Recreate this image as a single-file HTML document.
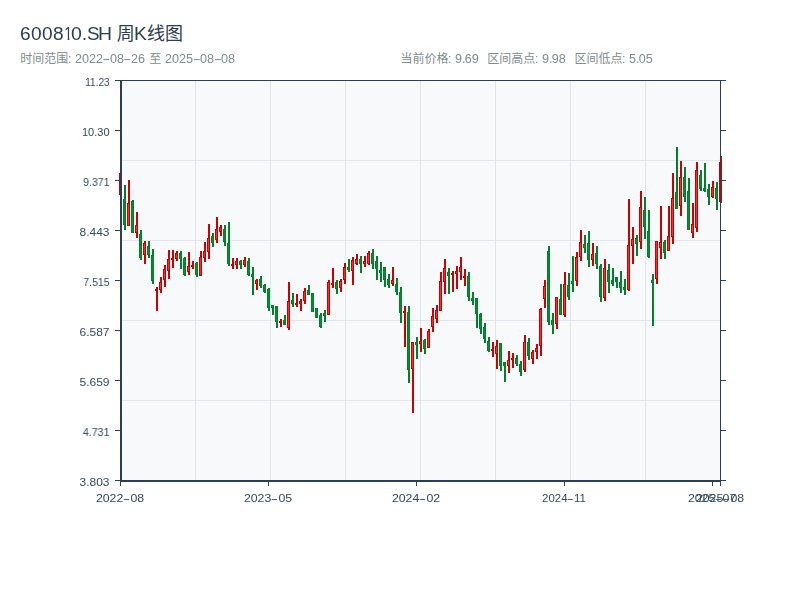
<!DOCTYPE html>
<html lang="zh"><head><meta charset="utf-8"><title>600810.SH</title>
<style>
html,body{margin:0;padding:0;background:#ffffff}
body{width:800px;height:600px;position:relative;overflow:hidden;font-family:"Liberation Sans",sans-serif}
div{position:absolute;white-space:nowrap;line-height:1;margin:0;padding:0;will-change:transform}
span{display:inline-block}
.tt{font-size:18px;color:#2c3e50}
.tt span{position:absolute;top:0;transform-origin:0 0}
.st{font-size:12px;color:#7f8c8d;transform:scaleX(1.05);transform-origin:0 0}
.h{width:6.67px;text-align:center;transform:scaleX(1.9)}
.p{letter-spacing:-0.8px}
.yl{font-size:11px;color:#34495e;transform-origin:100% 0}
.xl{font-size:11px;color:#34495e;transform:translateX(-50%) scaleX(1.12)}
.hx{width:6.3px;text-align:center;transform:scaleX(1.75)}
</style></head><body>
<svg width="800" height="600" viewBox="0 0 800 600" style="position:absolute;left:0;top:0" shape-rendering="crispEdges">
<rect x="120" y="80" width="601" height="401" fill="#f8f9fa"/>
<path d="M195 81V480M270 81V480M345 81V480M420 81V480M495 81V480M570 81V480M645 81V480" stroke="#e1e5ec" stroke-width="1" transform="translate(0.5,0)" fill="none"/>
<path d="M122 160H720M122 240H720M122 320H720M122 400H720" stroke="#e1e5ec" stroke-width="1" transform="translate(0,0.5)" fill="none"/>
<path fill="#cc0000" d="M120 173h2v22h-2zM119 173h3v22h-3zM128 180h2v46h-2zM127 203h3v23h-3zM136 212h2v26h-2zM135 225h3v8h-3zM144 241h2v23h-2zM143 243h3v12h-3zM156 287h2v24h-2zM155 289h3v2h-3zM160 277h2v16h-2zM159 282h3v8h-3zM164 265h2v22h-2zM163 269h3v11h-3zM168 250h2v29h-2zM167 259h3v12h-3zM172 250h2v18h-2zM171 258h3v2h-3zM176 251h2v10h-2zM175 253h3v6h-3zM188 252h2v23h-2zM187 266h3v6h-3zM192 261h2v8h-2zM191 265h3v2h-3zM200 251h2v25h-2zM199 257h3v19h-3zM204 242h2v20h-2zM203 251h3v7h-3zM208 224h2v35h-2zM207 238h3v14h-3zM216 217h2v26h-2zM215 229h3v11h-3zM220 225h2v11h-2zM219 227h3v5h-3zM232 258h2v11h-2zM231 264h3v2h-3zM236 258h2v11h-2zM235 261h3v4h-3zM244 257h2v10h-2zM243 260h3v5h-3zM256 279h2v11h-2zM255 280h3v4h-3zM280 319h2v8h-2zM279 321h3v2h-3zM288 282h2v48h-2zM287 301h3v27h-3zM296 294h2v13h-2zM295 303h3v2h-3zM300 299h2v12h-2zM299 301h3v3h-3zM304 288h2v16h-2zM303 291h3v10h-3zM328 280h2v35h-2zM327 282h3v33h-3zM332 268h2v20h-2zM331 283h3v2h-3zM340 279h2v13h-2zM339 281h3v7h-3zM344 263h2v21h-2zM343 267h3v13h-3zM352 257h2v28h-2zM351 260h3v11h-3zM356 254h2v11h-2zM355 259h3v5h-3zM364 256h2v11h-2zM363 261h3v3h-3zM368 251h2v14h-2zM367 253h3v11h-3zM392 267h2v19h-2zM391 280h3v4h-3zM404 306h2v41h-2zM403 311h3v2h-3zM412 342h2v71h-2zM411 342h3v27h-3zM420 328h2v24h-2zM419 341h3v3h-3zM428 329h2v19h-2zM427 331h3v17h-3zM432 308h2v24h-2zM431 316h3v11h-3zM436 305h2v18h-2zM435 310h3v9h-3zM440 272h2v39h-2zM439 281h3v30h-3zM444 259h2v35h-2zM443 268h3v14h-3zM452 271h2v21h-2zM451 273h3v2h-3zM456 266h2v23h-2zM455 271h3v3h-3zM460 257h2v23h-2zM459 267h3v5h-3zM464 269h2v17h-2zM463 276h3v2h-3zM492 342h2v15h-2zM491 349h3v2h-3zM496 340h2v29h-2zM495 346h3v8h-3zM508 351h2v22h-2zM507 360h3v6h-3zM512 353h2v15h-2zM511 358h3v2h-3zM524 335h2v37h-2zM523 342h3v28h-3zM532 350h2v14h-2zM531 352h3v7h-3zM536 344h2v15h-2zM535 348h3v4h-3zM540 308h2v48h-2zM539 309h3v37h-3zM544 280h2v28h-2zM543 286h3v13h-3zM556 297h2v32h-2zM555 297h3v27h-3zM564 272h2v45h-2zM563 284h3v31h-3zM576 252h2v34h-2zM575 257h3v24h-3zM580 230h2v31h-2zM579 242h3v15h-3zM592 243h2v23h-2zM591 254h3v6h-3zM604 259h2v42h-2zM603 268h3v30h-3zM628 199h2v92h-2zM627 245h3v45h-3zM632 227h2v37h-2zM631 239h3v7h-3zM640 191h2v58h-2zM639 207h3v35h-3zM656 241h2v43h-2zM655 241h3v38h-3zM660 206h2v53h-2zM659 242h3v6h-3zM668 206h2v45h-2zM667 236h3v15h-3zM672 173h2v71h-2zM671 198h3v39h-3zM680 161h2v55h-2zM679 177h3v29h-3zM692 203h2v35h-2zM691 224h3v9h-3zM696 162h2v70h-2zM695 170h3v58h-3zM712 181h2v17h-2zM711 187h3v10h-3zM720 156h2v47h-2zM719 162h3v40h-3z"/>
<path fill="#ff2b2b" d="M120 174h1v20h-1zM128 204h1v21h-1zM136 226h1v6h-1zM144 244h1v10h-1zM160 283h1v6h-1zM164 270h1v9h-1zM168 260h1v10h-1zM176 254h1v4h-1zM188 267h1v4h-1zM200 258h1v17h-1zM204 252h1v5h-1zM208 239h1v12h-1zM216 230h1v9h-1zM220 228h1v3h-1zM236 262h1v2h-1zM244 261h1v3h-1zM256 281h1v2h-1zM288 302h1v25h-1zM300 302h1v1h-1zM304 292h1v8h-1zM328 283h1v31h-1zM340 282h1v5h-1zM344 268h1v11h-1zM352 261h1v9h-1zM356 260h1v3h-1zM364 262h1v1h-1zM368 254h1v9h-1zM392 281h1v2h-1zM412 343h1v25h-1zM420 342h1v1h-1zM428 332h1v15h-1zM432 317h1v9h-1zM436 311h1v7h-1zM440 282h1v28h-1zM444 269h1v12h-1zM456 272h1v1h-1zM460 268h1v3h-1zM496 347h1v6h-1zM508 361h1v4h-1zM524 343h1v26h-1zM532 353h1v5h-1zM536 349h1v2h-1zM540 310h1v35h-1zM544 287h1v11h-1zM556 298h1v25h-1zM564 285h1v29h-1zM576 258h1v22h-1zM580 243h1v13h-1zM592 255h1v4h-1zM604 269h1v28h-1zM628 246h1v43h-1zM632 240h1v5h-1zM640 208h1v33h-1zM656 242h1v36h-1zM660 243h1v4h-1zM668 237h1v13h-1zM672 199h1v37h-1zM680 178h1v27h-1zM692 225h1v7h-1zM696 171h1v56h-1zM712 188h1v8h-1zM720 163h1v38h-1z"/>
<path fill="#00802b" d="M124 185h2v45h-2zM123 199h3v26h-3zM132 200h2v33h-2zM131 201h3v32h-3zM140 230h2v30h-2zM139 234h3v24h-3zM148 241h2v17h-2zM147 246h3v9h-3zM152 249h2v35h-2zM151 255h3v26h-3zM180 251h2v18h-2zM179 253h3v6h-3zM184 257h2v19h-2zM183 258h3v17h-3zM196 262h2v15h-2zM195 263h3v12h-3zM212 233h2v14h-2zM211 236h3v7h-3zM224 225h2v21h-2zM223 229h3v13h-3zM228 222h2v44h-2zM227 243h3v21h-3zM240 260h2v9h-2zM239 261h3v4h-3zM248 258h2v18h-2zM247 261h3v14h-3zM252 267h2v28h-2zM251 274h3v3h-3zM260 276h2v12h-2zM259 279h3v7h-3zM264 284h2v9h-2zM263 285h3v7h-3zM268 288h2v23h-2zM267 289h3v19h-3zM272 305h2v10h-2zM271 305h3v3h-3zM276 306h2v22h-2zM275 306h3v16h-3zM284 315h2v10h-2zM283 320h3v5h-3zM292 293h2v14h-2zM291 300h3v4h-3zM308 285h2v10h-2zM307 290h3v5h-3zM312 293h2v19h-2zM311 293h3v19h-3zM316 308h2v10h-2zM315 308h3v10h-3zM320 313h2v15h-2zM319 315h3v12h-3zM324 310h2v12h-2zM323 313h3v3h-3zM336 280h2v14h-2zM335 282h3v7h-3zM348 259h2v13h-2zM347 267h3v3h-3zM360 256h2v17h-2zM359 259h3v5h-3zM372 249h2v20h-2zM371 253h3v11h-3zM376 256h2v24h-2zM375 261h3v8h-3zM380 262h2v20h-2zM379 270h3v3h-3zM384 267h2v20h-2zM383 267h3v13h-3zM388 274h2v14h-2zM387 279h3v6h-3zM396 278h2v17h-2zM395 284h3v8h-3zM400 287h2v36h-2zM399 292h3v21h-3zM408 306h2v77h-2zM407 312h3v58h-3zM416 337h2v22h-2zM415 342h3v3h-3zM424 339h2v15h-2zM423 340h3v9h-3zM448 268h2v26h-2zM447 272h3v4h-3zM468 272h2v29h-2zM467 276h3v21h-3zM472 292h2v13h-2zM471 298h3v3h-3zM476 298h2v30h-2zM475 298h3v16h-3zM480 313h2v21h-2zM479 314h3v15h-3zM484 323h2v20h-2zM483 327h3v12h-3zM488 337h2v15h-2zM487 341h3v10h-3zM500 343h2v28h-2zM499 343h3v23h-3zM504 362h2v20h-2zM503 362h3v4h-3zM516 355h2v11h-2zM515 358h3v6h-3zM520 361h2v15h-2zM519 364h3v8h-3zM528 338h2v22h-2zM527 342h3v14h-3zM548 246h2v79h-2zM547 251h3v71h-3zM552 313h2v21h-2zM551 320h3v5h-3zM560 284h2v31h-2zM559 299h3v16h-3zM568 273h2v27h-2zM567 285h3v12h-3zM572 256h2v36h-2zM571 281h3v3h-3zM584 235h2v18h-2zM583 244h3v4h-3zM588 231h2v36h-2zM587 243h3v17h-3zM596 246h2v23h-2zM595 253h3v11h-3zM600 264h2v38h-2zM599 266h3v31h-3zM608 264h2v29h-2zM607 270h3v12h-3zM612 268h2v18h-2zM611 280h3v4h-3zM616 277h2v11h-2zM615 277h3v5h-3zM620 271h2v22h-2zM619 282h3v6h-3zM624 279h2v16h-2zM623 287h3v3h-3zM636 235h2v21h-2zM635 238h3v6h-3zM644 197h2v42h-2zM643 210h3v17h-3zM648 210h2v48h-2zM647 231h3v26h-3zM652 274h2v52h-2zM651 280h3v3h-3zM664 240h2v19h-2zM663 242h3v11h-3zM676 147h2v62h-2zM675 192h3v17h-3zM684 167h2v35h-2zM683 177h3v20h-3zM688 178h2v52h-2zM687 191h3v39h-3zM700 170h2v21h-2zM699 175h3v14h-3zM704 163h2v29h-2zM703 188h3v3h-3zM708 184h2v21h-2zM707 189h3v8h-3zM716 182h2v28h-2zM715 188h3v11h-3z"/>
<path fill="#0a8a35" d="M124 200h1v24h-1zM132 202h1v30h-1zM140 235h1v22h-1zM148 247h1v7h-1zM152 256h1v24h-1zM180 254h1v4h-1zM184 259h1v15h-1zM196 264h1v10h-1zM212 237h1v5h-1zM224 230h1v11h-1zM228 244h1v19h-1zM240 262h1v2h-1zM248 262h1v12h-1zM252 275h1v1h-1zM260 280h1v5h-1zM264 286h1v5h-1zM268 290h1v17h-1zM272 306h1v1h-1zM276 307h1v14h-1zM284 321h1v3h-1zM292 301h1v2h-1zM308 291h1v3h-1zM312 294h1v17h-1zM316 309h1v8h-1zM320 316h1v10h-1zM324 314h1v1h-1zM336 283h1v5h-1zM348 268h1v1h-1zM360 260h1v3h-1zM372 254h1v9h-1zM376 262h1v6h-1zM380 271h1v1h-1zM384 268h1v11h-1zM388 280h1v4h-1zM396 285h1v6h-1zM400 293h1v19h-1zM408 313h1v56h-1zM416 343h1v1h-1zM424 341h1v7h-1zM448 273h1v2h-1zM468 277h1v19h-1zM472 299h1v1h-1zM476 299h1v14h-1zM480 315h1v13h-1zM484 328h1v10h-1zM488 342h1v8h-1zM500 344h1v21h-1zM504 363h1v2h-1zM516 359h1v4h-1zM520 365h1v6h-1zM528 343h1v12h-1zM548 252h1v69h-1zM552 321h1v3h-1zM560 300h1v14h-1zM568 286h1v10h-1zM572 282h1v1h-1zM584 245h1v2h-1zM588 244h1v15h-1zM596 254h1v9h-1zM600 267h1v29h-1zM608 271h1v10h-1zM612 281h1v2h-1zM616 278h1v3h-1zM620 283h1v4h-1zM624 288h1v1h-1zM636 239h1v4h-1zM644 211h1v15h-1zM648 232h1v24h-1zM652 281h1v1h-1zM664 243h1v9h-1zM676 193h1v15h-1zM684 178h1v18h-1zM688 192h1v37h-1zM700 176h1v12h-1zM704 189h1v1h-1zM708 190h1v6h-1zM716 189h1v9h-1z"/>
<path fill="#2c3e50" d="M120 80h2v402h-2zM120 480h601v2h-601zM115 80h606v1h-606zM720 80h1v401h-1zM115 80h5v1h-5zM721 80h5v1h-5zM115 130h5v1h-5zM721 130h5v1h-5zM115 180h5v1h-5zM721 180h5v1h-5zM115 230h5v1h-5zM721 230h5v1h-5zM115 280h5v1h-5zM721 280h5v1h-5zM115 330h5v1h-5zM721 330h5v1h-5zM115 380h5v1h-5zM721 380h5v1h-5zM115 430h5v1h-5zM721 430h5v1h-5zM115 480h5v1h-5zM721 480h5v1h-5zM120 482h1v4h-1zM268 482h1v4h-1zM416 482h1v4h-1zM564 482h1v4h-1zM712 482h1v4h-1zM720 482h1v4h-1z"/>
</svg>
<svg width="800" height="80" viewBox="0 0 800 80" style="position:absolute;left:0;top:0" role="img" aria-label="周K线图 时间范围 至 当前价格 区间高点 区间低点"><title>600810.SH 周K线图 时间范围: 2022-08-26 至 2025-08-08 当前价格: 9.69 区间高点: 9.98 区间低点: 5.05</title>
<text x="116.7" y="39.6" font-size="18" fill="#2c3e50" font-family="&quot;Liberation Sans&quot;, &quot;Noto Sans CJK SC&quot;, sans-serif">周</text>
<text x="147" y="39.6" font-size="18" fill="#2c3e50" font-family="&quot;Liberation Sans&quot;, &quot;Noto Sans CJK SC&quot;, sans-serif">线图</text>
<text x="20.2" y="63" font-size="12" fill="#7f8c8d" font-family="&quot;Liberation Sans&quot;, &quot;Noto Sans CJK SC&quot;, sans-serif">时间范围</text>
<text x="149.2" y="63" font-size="12" fill="#7f8c8d" font-family="&quot;Liberation Sans&quot;, &quot;Noto Sans CJK SC&quot;, sans-serif">至</text>
<text x="400.6" y="63" font-size="12" fill="#7f8c8d" font-family="&quot;Liberation Sans&quot;, &quot;Noto Sans CJK SC&quot;, sans-serif">当前价格</text>
<text x="487.2" y="63" font-size="12" fill="#7f8c8d" font-family="&quot;Liberation Sans&quot;, &quot;Noto Sans CJK SC&quot;, sans-serif">区间高点</text>
<text x="574.6" y="63" font-size="12" fill="#7f8c8d" font-family="&quot;Liberation Sans&quot;, &quot;Noto Sans CJK SC&quot;, sans-serif">区间低点</text>
</svg>
<div class="tt" style="left:19.78px;top:25px"><span style="left:0px;transform:scaleX(1.06);letter-spacing:.37px">6008</span><span style="left:44.42px;transform:scaleX(0.85);clip-path:polygon(1.6px 0,6.3px 0,6.3px 18px,4.35px 18px,4.35px 12.9px,1.6px 12.9px)">1</span><span style="left:50.86px;transform:scaleX(1.08)">0</span><span style="left:61.98px">.</span><span style="left:66.62px;transform:scaleX(1.05)">S</span><span style="left:77.62px;transform:scaleX(1.08)">H</span></div>
<div class="tt" style="left:134.4px;top:25px;transform:scaleX(1.07);transform-origin:0 0">K</div>
<div class="st" style="left:68.05px;top:52.9px">: 2022<span class="h">-</span>08<span class="h">-</span>26</div>
<div class="st" style="left:165px;top:52.9px">2025<span class="h">-</span>08<span class="h">-</span>08</div>
<div class="st" style="left:448.2px;top:52.9px">: 9<span class="p">.</span>69</div>
<div class="st" style="left:535.2px;top:52.9px">: 9<span class="p">.</span>98</div>
<div class="st" style="left:622px;top:52.9px">: 5<span class="p">.</span>05</div>
<div class="yl" style="right:690.5px;top:77.3px;transform:scaleX(0.92)">11.23</div>
<div class="yl" style="right:690.5px;top:127.3px">10.30</div>
<div class="yl" style="right:690.5px;top:177.3px;transform:scaleX(0.96)">9.371</div>
<div class="yl" style="right:690.5px;top:227.3px;transform:scaleX(1.09)">8.443</div>
<div class="yl" style="right:690.5px;top:277.3px;transform:scaleX(0.95)">7.515</div>
<div class="yl" style="right:690.5px;top:327.3px;transform:scaleX(1.09)">6.587</div>
<div class="yl" style="right:690.5px;top:377.3px;transform:scaleX(1.09)">5.659</div>
<div class="yl" style="right:690.5px;top:427.3px;transform:scaleX(0.97)">4.731</div>
<div class="yl" style="right:690.5px;top:477.3px;transform:scaleX(1.09)">3.803</div>
<div class="xl" style="left:120.4px;top:493.3px">2022<span class="hx">-</span>08</div>
<div class="xl" style="left:268.4px;top:493.3px">2023<span class="hx">-</span>05</div>
<div class="xl" style="left:416.4px;top:493.3px">2024<span class="hx">-</span>02</div>
<div class="xl" style="left:564.4px;top:493.3px;transform:translateX(-50%) scaleX(1.04)">2024<span class="hx">-</span>11</div>
<div class="xl" style="left:712.4px;top:493.3px">2025<span class="hx">-</span>07</div>
<div class="xl" style="left:720.4px;top:493.3px">2025<span class="hx">-</span>08</div>
</body></html>
